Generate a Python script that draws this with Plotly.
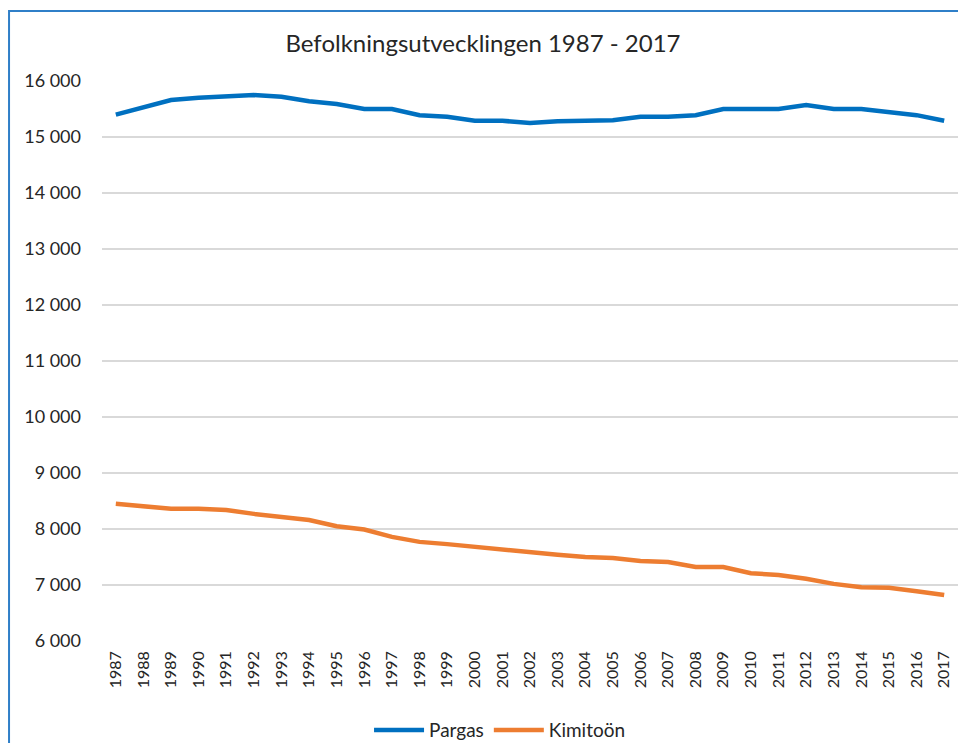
import plotly.graph_objects as go

years = [str(y) for y in range(1987, 2018)]
pargas = [15400, 15520, 15660, 15700, 15720, 15750, 15720, 15640, 15590, 15500,
          15500, 15390, 15360, 15290, 15290, 15250, 15280, 15280, 15300, 15360,
          15360, 15390, 15500, 15500, 15500, 15570, 15500, 15500, 15450, 15390, 15290]
kimitoon = [8450, 8410, 8360, 8360, 8340, 8270, 8210, 8160, 8050, 7990,
            7860, 7770, 7730, 7680, 7620, 7570, 7540, 7500, 7480, 7430,
            7410, 7320, 7320, 7210, 7180, 7110, 7020, 6960, 6950, 6890, 6820]
y_ticks = list(range(6000, 16001, 1000))

fig = go.Figure()
fig.add_trace(go.Scatter(x=years, y=pargas, mode="lines", name="Pargas",
                         line=dict(color="#0070C0", width=4.5)))
fig.add_trace(go.Scatter(x=years, y=kimitoon, mode="lines", name="Kimitoön",
                         line=dict(color="#ED7D31", width=4.5)))

font_family = "Lato, 'DejaVu Sans', sans-serif"
fig.update_layout(
    width=950, height=735,
    margin=dict(l=94, r=0, t=73, b=102, autoexpand=False),
    paper_bgcolor="white", plot_bgcolor="white",
    separators=", ",
    font=dict(family=font_family, size=17, color="#262626"),
    title=dict(text="Befolkningsutvecklingen 1987 - 2017", x=0.5, xanchor="center",
               y=0.951, yanchor="middle", font=dict(size=24, color="#262626")),
    xaxis=dict(type="category", range=[-0.5, len(years) - 0.5], tickangle=-90,
               showgrid=False, showline=False, ticks="", ticklabelstandoff=6,
               tickfont=dict(size=16), automargin=False),
    yaxis=dict(range=[6000, 16000], tickvals=y_ticks, tickformat=",", showgrid=True,
               gridcolor="#d9d9d9", gridwidth=1.5, zeroline=False, showline=False,
               ticks="", ticklabelstandoff=20, tickfont=dict(size=18), automargin=False),
    legend=dict(orientation="h", x=0.465, xanchor="center", y=-0.159, yanchor="middle",
                font=dict(size=19), itemwidth=50, traceorder="normal"),
    showlegend=True,
)
fig.add_shape(type="rect", xref="paper", yref="paper", x0=-0.1086, x1=1.03, y0=-0.3, y1=1.125,
              line=dict(color="#2F7FC8", width=2), fillcolor="rgba(0,0,0,0)", layer="above")
fig.write_html("out.html")
